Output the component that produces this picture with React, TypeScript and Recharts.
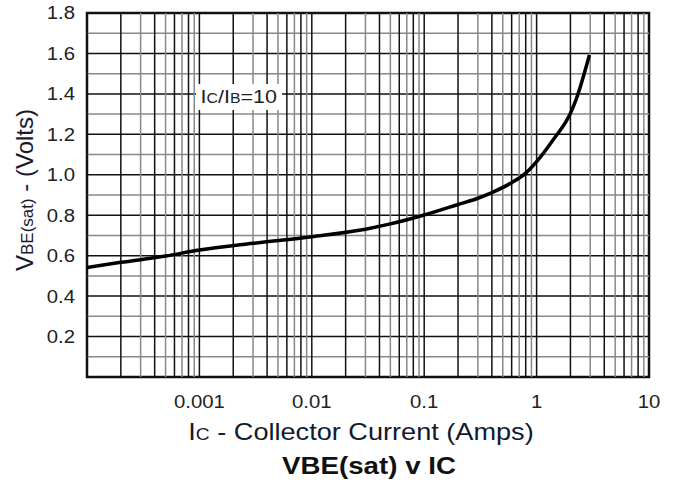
import React from 'react';
import { LineChart, Line, XAxis, YAxis, ReferenceLine, ReferenceArea } from 'recharts';

// collector current (A) and VBE(sat) (V)
const current = [0.0001, 0.0002, 0.0005, 0.001, 0.003, 0.01, 0.03, 0.05, 0.1, 0.2, 0.3, 0.4, 0.6, 0.8, 1.0, 1.4, 2.0, 2.24, 2.95];
const vbeSat = [0.542, 0.567, 0.598, 0.628, 0.661, 0.694, 0.731, 0.757, 0.801, 0.853, 0.884, 0.912, 0.961, 1.008, 1.065, 1.172, 1.304, 1.37, 1.592];

const xTicks = [0.001, 0.01, 0.1, 1, 10];
const yTicks = [0.2, 0.4, 0.6, 0.8, 1.0, 1.2, 1.4, 1.6, 1.8];

// log grid: decade starts x multipliers
const decades = [0.0001, 0.001, 0.01, 0.1, 1];
const multipliers = [1, 2, 3, 4, 5, 6, 7, 8, 9];
const darkMultipliers = [1, 2, 4, 6, 8];
const yGrid = [0.1, 0.2, 0.3, 0.4, 0.5, 0.6, 0.7, 0.8, 0.9, 1.0, 1.1, 1.2, 1.3, 1.4, 1.5, 1.6, 1.7];

const data = current.map((c, i) => ({ ic: c, v: vbeSat[i] }));

const xGrid = decades.flatMap((d) =>
  multipliers.map((m) => ({ x: +(d * m).toPrecision(3), dark: darkMultipliers.includes(m) }))
);

const font = '"Liberation Sans", Arial, sans-serif';
const stretch = 1.13;

const XTick = (props: any) => {
  const { x, y, payload } = props;
  return (
    <g transform={`translate(${x},${y})`}>
      <text transform={`scale(${stretch},1)`} textAnchor="middle" dy="0.71em" fontFamily={font} fontSize={18} fill="#222">
        {String(payload.value)}
      </text>
    </g>
  );
};

const YTick = (props: any) => {
  const { x, y, payload } = props;
  return (
    <g transform={`translate(${x},${y})`}>
      <text transform={`scale(${stretch},1)`} textAnchor="end" dy="0.355em" fontFamily={font} fontSize={18} fill="#222">
        {Number(payload.value).toFixed(1)}
      </text>
    </g>
  );
};

export default function App() {
  return (
    <div style={{ position: 'absolute', left: 0, top: 0, width: 681, height: 483, background: '#fff', fontFamily: font }}>
      <LineChart width={681} height={483} data={data} margin={{ top: 13, right: 32, bottom: 76, left: 0 }}>
        <XAxis
          dataKey="ic"
          type="number"
          scale="log"
          domain={[0.0001, 10]}
          allowDataOverflow
          ticks={xTicks}
          tickLine={false}
          axisLine={false}
          height={30}
          tickMargin={12}
          tick={<XTick />}
        />
        <YAxis
          type="number"
          domain={[0, 1.8]}
          ticks={yTicks}
          tickLine={false}
          axisLine={false}
          width={87}
          tickMargin={6}
          tick={<YTick />}
        />
        {yGrid.map((y, i) => (
          <ReferenceLine key={'h' + y} y={y} stroke={i % 2 === 1 ? '#111' : '#888'} strokeWidth={1.5} />
        ))}
        {xGrid.map((g) => (
          <ReferenceLine key={'v' + g.x} x={g.x} stroke={g.dark ? '#111' : '#888'} strokeWidth={1.5} />
        ))}
        <ReferenceArea x1={0.0001} x2={10} y1={0} y2={1.8} fill="none" stroke="#111" strokeWidth={2.5} />
        <Line
          dataKey="v"
          type="monotone"
          stroke="#000"
          strokeWidth={3.5}
          strokeLinejoin="round"
          dot={false}
          isAnimationActive={false}
        />
      </LineChart>

      {/* Ic/IB annotation with its white backing */}
      <div
        style={{
          position: 'absolute',
          left: 196,
          top: 84,
          width: 86,
          height: 26,
          background: '#fff',
          display: 'flex',
          alignItems: 'center',
          justifyContent: 'center',
          whiteSpace: 'nowrap',
          fontSize: 19,
          color: '#222',
        }}
      >
        <span style={{ transform: `scaleX(${stretch})`, display: 'inline-block' }}>
          I<span style={{ fontSize: 14 }}>C</span>/I<span style={{ fontSize: 14 }}>B</span>=10
        </span>
      </div>

      <div
        style={{
          position: 'absolute',
          left: 25,
          top: 190,
          transform: 'translate(-50%, -50%) rotate(-90deg)',
          whiteSpace: 'nowrap',
          fontSize: 24,
          color: '#1a1a2a',
        }}
      >
        V<span style={{ fontSize: 17 }}>BE(sat)</span> - (Volts)
      </div>

      <div
        style={{
          position: 'absolute',
          left: 361,
          top: 432,
          transform: `translate(-50%, -50%) scaleX(${stretch})`,
          whiteSpace: 'nowrap',
          fontSize: 24,
          color: '#111a2e',
        }}
      >
        I<span style={{ fontSize: 17 }}>C</span> - Collector Current (Amps)
      </div>

      <div
        style={{
          position: 'absolute',
          left: 369,
          top: 466,
          transform: `translate(-50%, -50%) scaleX(${stretch})`,
          whiteSpace: 'nowrap',
          fontSize: 24.5,
          fontWeight: 'bold',
          color: '#111',
        }}
      >
        VBE(sat) v IC
      </div>
    </div>
  );
}
